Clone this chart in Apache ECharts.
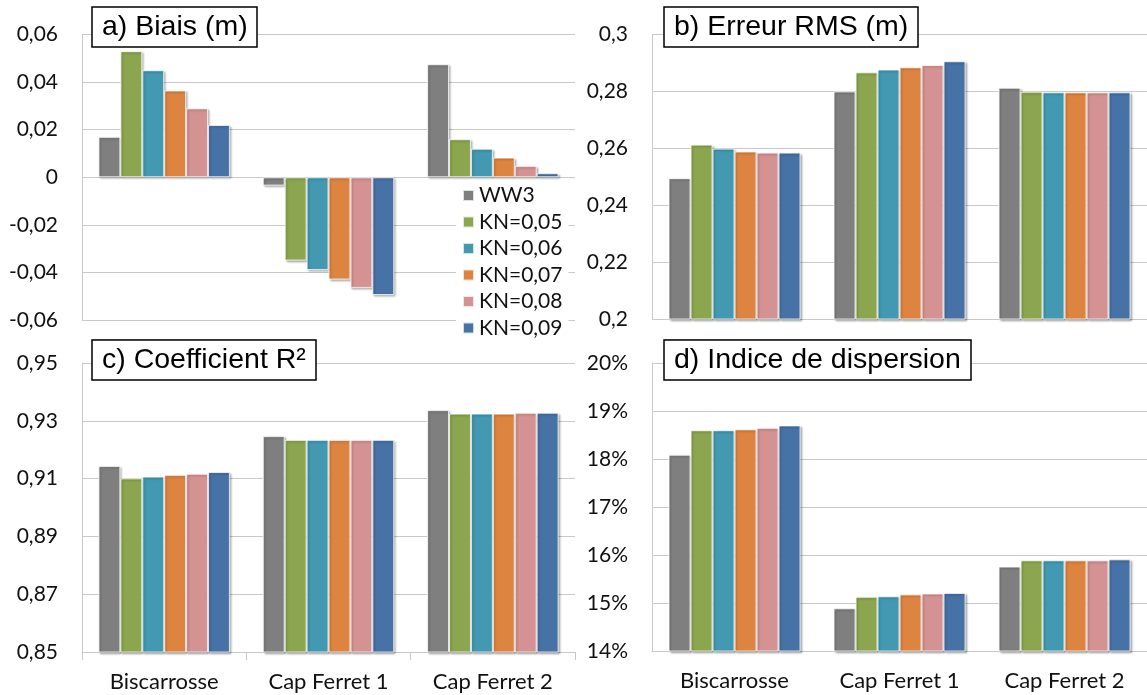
<!DOCTYPE html>
<html>
<head>
<meta charset="utf-8">
<script src="https://cdn.jsdelivr.net/npm/echarts@6/dist/echarts.min.js"></script>
<style>
  html, body { margin: 0; padding: 0; background: #fff; }
  #chart { width: 1147px; height: 695px; }
</style>
</head>
<body>
<div id="chart"></div>
<script>
// ---- Data ----
const categories = ['Biscarrosse', 'Cap Ferret 1', 'Cap Ferret 2'];
const seriesNames = ['WW3', 'KN=0,05', 'KN=0,06', 'KN=0,07', 'KN=0,08', 'KN=0,09'];
const seriesColors = ['#7f7f7f', '#8ba64e', '#4299b1', '#dd8441', '#d59292', '#4672a6'];

// a) Biais (m): one array per series, values for [Biscarrosse, Cap Ferret 1, Cap Ferret 2]
const biaisWW3  = [0.017, -0.0035, 0.0475];
const biaisKN05 = [0.053, -0.035, 0.016];
const biaisKN06 = [0.045, -0.039, 0.012];
const biaisKN07 = [0.0365, -0.043, 0.0083];
const biaisKN08 = [0.029, -0.0465, 0.0048];
const biaisKN09 = [0.022, -0.0495, 0.0017];

// b) Erreur RMS (m)
const rmsWW3  = [0.2495, 0.2800, 0.2813];
const rmsKN05 = [0.2613, 0.2867, 0.2799];
const rmsKN06 = [0.2599, 0.2877, 0.2797];
const rmsKN07 = [0.2589, 0.2885, 0.2797];
const rmsKN08 = [0.2585, 0.2893, 0.2797];
const rmsKN09 = [0.2585, 0.2906, 0.2797];

// c) Coefficient R²
const r2WW3  = [0.9144, 0.9247, 0.9337];
const r2KN05 = [0.9101, 0.9234, 0.9325];
const r2KN06 = [0.9107, 0.9234, 0.9325];
const r2KN07 = [0.9113, 0.9234, 0.9325];
const r2KN08 = [0.9117, 0.9234, 0.9328];
const r2KN09 = [0.9123, 0.9234, 0.9328];

// d) Indice de dispersion (%)
const siWW3  = [18.09, 14.89, 15.76];
const siKN05 = [18.60, 15.13, 15.89];
const siKN06 = [18.60, 15.14, 15.89];
const siKN07 = [18.62, 15.18, 15.89];
const siKN08 = [18.65, 15.20, 15.89];
const siKN09 = [18.70, 15.21, 15.91];

// Tick labels
const ticksA = ['-0,06', '-0,04', '-0,02', '0', '0,02', '0,04', '0,06'];
const ticksB = ['0,2', '0,22', '0,24', '0,26', '0,28', '0,3'];
const ticksC = ['0,85', '0,87', '0,89', '0,91', '0,93', '0,95'];
const ticksD = ['14%', '15%', '16%', '17%', '18%', '19%', '20%'];

const panelTitles = ['a) Biais (m)', 'b) Erreur RMS (m)', 'c) Coefficient R\u00B2', 'd) Indice de dispersion'];

// ---- Build ----
const panels = [
  { data: [biaisWW3, biaisKN05, biaisKN06, biaisKN07, biaisKN08, biaisKN09], min: -0.06, max: 0.06, interval: 0.02, ticks: ticksA },
  { data: [rmsWW3, rmsKN05, rmsKN06, rmsKN07, rmsKN08, rmsKN09], min: 0.2, max: 0.3, interval: 0.02, ticks: ticksB },
  { data: [r2WW3, r2KN05, r2KN06, r2KN07, r2KN08, r2KN09], min: 0.85, max: 0.95, interval: 0.02, ticks: ticksC },
  { data: [siWW3, siKN05, siKN06, siKN07, siKN08, siKN09], min: 14, max: 20, interval: 1, ticks: ticksD }
];

const grids = [
  { left: 82, top: 34.5, width: 493, height: 285.5 },
  { left: 652, top: 34.5, width: 504, height: 284.5 },
  { left: 82, top: 363, width: 493, height: 289 },
  { left: 652, top: 363, width: 504, height: 288 }
];

const labelFont = 'Lato, "Noto Sans", sans-serif';
const gridColor = '#c9c9c9';
const textColor = '#111';

const xAxes = panels.map((p, i) => ({
  type: 'category',
  gridIndex: i,
  data: categories,
  axisLine: { show: i >= 2, onZero: false, lineStyle: { color: gridColor, width: 1 } },
  axisTick: { show: i === 2, alignWithLabel: false, length: 8, lineStyle: { color: gridColor } },
  axisLabel: { show: i >= 2, margin: 19, fontFamily: labelFont, fontSize: 22, color: textColor },
  splitLine: { show: false }
}));

const yAxes = panels.map((p, i) => ({
  type: 'value',
  gridIndex: i,
  min: p.min, max: p.max, interval: p.interval,
  axisLine: { show: true, lineStyle: { color: gridColor, width: 1 } },
  axisTick: { show: false },
  splitLine: { show: true, lineStyle: { color: gridColor, width: 1 } },
  axisLabel: {
    margin: 24,
    fontFamily: labelFont, fontSize: 21, color: textColor,
    formatter: (v) => p.ticks[Math.round((v - p.min) / p.interval)]
  }
}));

const series = [];
panels.forEach((p, i) => {
  p.data.forEach((vals, k) => {
    series.push({
      type: 'bar',
      name: seriesNames[k],
      xAxisIndex: i, yAxisIndex: i,
      data: vals,
      barGap: '0%',
      barCategoryGap: '20%',
      itemStyle: {
        color: seriesColors[k],
        borderColor: 'rgba(255,255,255,0.75)',
        borderWidth: 1,
        shadowColor: 'rgba(0,0,0,0.28)',
        shadowBlur: 2,
        shadowOffsetX: 1.5,
        shadowOffsetY: 1.5
      },
      emphasis: { disabled: true },
      animation: false
    });
  });
});

const titlePos = [
  { left: 92, top: 7 },
  { left: 664, top: 7 },
  { left: 92, top: 340 },
  { left: 664, top: 340 }
];

const titles = panelTitles.map((t, i) => ({
  text: t,
  left: titlePos[i].left,
  top: titlePos[i].top,
  padding: [5, 10, 5, 10],
  backgroundColor: '#fff',
  borderColor: '#000',
  borderWidth: 1.5,
  textStyle: { fontFamily: '"Liberation Sans", Arial, sans-serif', fontSize: 28.5, fontWeight: 'normal', color: '#000', lineHeight: 30 }
}));

const chart = echarts.init(document.getElementById('chart'), null, { renderer: 'canvas' });
chart.setOption({
  animation: false,
  backgroundColor: '#fff',
  title: titles,
  legend: {
    data: seriesNames,
    orient: 'vertical',
    left: 456,
    top: 182,
    padding: [3, 6, 3, 6],
    backgroundColor: '#fff',
    icon: 'rect',
    itemWidth: 11,
    itemHeight: 11,
    itemGap: 5.5,
    selectedMode: false,
    textStyle: { fontFamily: labelFont, fontSize: 21, color: textColor, lineHeight: 20.5, padding: [0, 0, 0, 0] }
  },
  grid: grids,
  xAxis: xAxes,
  yAxis: yAxes,
  series: series,
  graphic: [
    { type: 'line', shape: { x1: 92, y1: 339.5, x2: 315, y2: 339.5 }, style: { stroke: '#d0d0d0', lineWidth: 1 }, silent: true },
    { type: 'line', shape: { x1: 664, y1: 339.5, x2: 964, y2: 339.5 }, style: { stroke: '#d0d0d0', lineWidth: 1 }, silent: true }
  ]
});
</script>
</body>
</html>
